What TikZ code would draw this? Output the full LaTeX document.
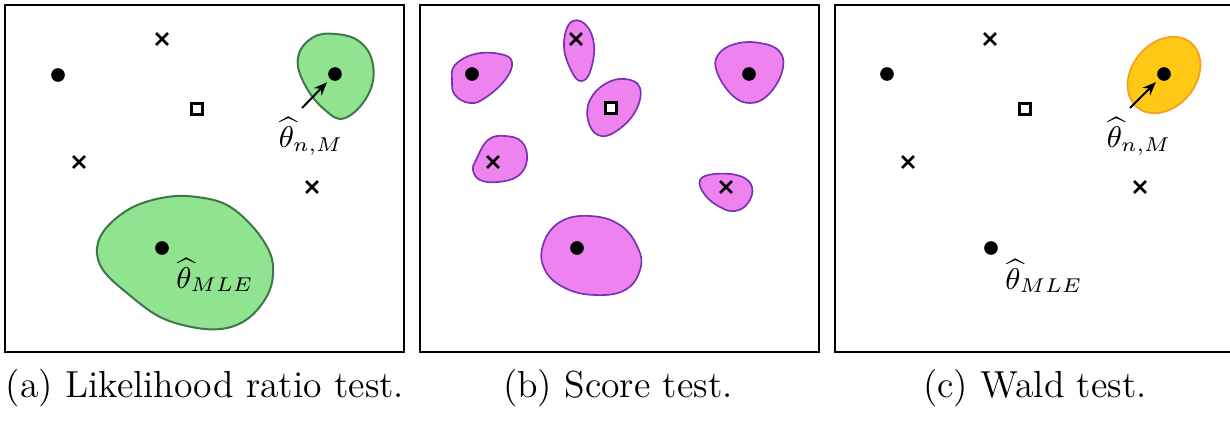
\documentclass[tikz,border=0pt]{standalone}
\usetikzlibrary{shapes.misc,arrows.meta}
\definecolor{gfill}{RGB}{144,228,144}
\definecolor{gline}{RGB}{60,120,75}
\definecolor{mfill}{RGB}{238,130,238}
\definecolor{mline}{RGB}{120,50,180}
\definecolor{ofill}{RGB}{255,200,20}
\definecolor{oline}{RGB}{240,160,30}
\begin{document}
\begin{tikzpicture}[x=0.3pt,y=-0.3pt,
  frame/.style={line width=0.7pt},
  dot/.style={circle,fill=black,inner sep=0pt,minimum size=4.1pt},
  xmark/.style={cross out,draw=black,line width=0.75pt,inner sep=0pt,minimum size=2.8pt},
  sqmark/.style={rectangle,draw=black,fill=white,line width=0.7pt,inner sep=0pt,minimum size=3.3pt},
  gblob/.style={fill=gfill,draw=gline,line width=0.6pt},
  mblob/.style={fill=mfill,draw=mline,line width=0.5pt},
  oblob/.style={fill=ofill,draw=oline,line width=0.5pt},
  arr/.style={-{Stealth[length=4pt,width=3.2pt]},line width=0.6pt,shorten >=1.2pt},
  lbl/.style={inner sep=0pt,font=\fontsize{9}{11}\selectfont},
  captext/.style={inner sep=0pt,font=\fontsize{11.3}{13}\selectfont}]
\useasboundingbox (0,0) rectangle (1230,422);
\clip (0,0) rectangle (1230,422);
\fill[white] (0,0) rectangle (1230,422);
% ---------------- panel (a)
\draw[frame] (5,5) rectangle (404,352);
\draw[gblob] plot[smooth cycle,tension=0.7] coordinates {(298,58) (312,38) (335,34) (360,42) (373,65) (368,95) (345,118) (325,110) (305,85)};
\draw[gblob] plot[smooth cycle,tension=0.6] coordinates {(97,248) (107,227) (133,207) (167,197) (197,197) (227,205) (253,227) (270,253) (273,275) (267,296) (250,317) (227,328) (197,328) (160,317) (127,293) (103,270)};
\node[xmark] (a1) at (162,39) {};
\node[dot] (a2) at (58,75) {};
\node[sqmark] (a3) at (197,109) {};
\node[xmark] (a4) at (79,162) {};
\node[xmark] (a5) at (312,187) {};
\node[dot] (aM) at (335,74) {};
\node[dot] (aE) at (162,248) {};
\node[lbl] (aLM) at (311,136) {$\widehat{\theta}_{n,M}$};
\node[lbl] (aLE) at (215,275) {$\widehat{\theta}_{MLE}$};
\coordinate (aS) at (302,108);
\draw[arr] (aS) -- (aM);
% ---------------- panel (b)
\draw[frame] (420,5) rectangle (819,352);
\draw[mblob] plot[smooth cycle,tension=0.7] coordinates {(570,23) (585,24) (594,45) (590,72) (581,81) (572,72) (564,47)};
\draw[mblob] plot[smooth cycle,tension=0.7] coordinates {(455,65) (475,54) (500,54) (512,62) (505,80) (485,98) (470,103) (455,95) (452,80)};
\draw[mblob] plot[smooth cycle,tension=0.7] coordinates {(590,100) (605,84) (625,79) (640,88) (635,112) (615,132) (598,135) (588,120)};
\draw[mblob] plot[smooth cycle,tension=0.7] coordinates {(718,55) (735,44) (760,43) (780,52) (782,72) (768,95) (750,103) (732,95) (717,72)};
\draw[mblob] plot[smooth cycle,tension=0.7] coordinates {(476,160) (488,140) (505,136) (522,142) (527,160) (518,176) (498,182) (480,180) (473,170)};
\draw[mblob] plot[smooth cycle,tension=0.7] coordinates {(700,180) (715,174) (740,176) (752,187) (748,203) (735,211) (720,207) (705,195)};
\draw[mblob] plot[smooth cycle,tension=0.7] coordinates {(543,245) (560,222) (590,216) (620,225) (638,248) (640,270) (625,290) (595,295) (565,288) (545,270)};
\node[xmark] (b1) at (576,39) {};
\node[dot] (b2) at (472,74) {};
\node[sqmark] (b3) at (611,108) {};
\node[xmark] (b4) at (493,162) {};
\node[xmark] (b5) at (726,187) {};
\node[dot] (bM) at (749,74) {};
\node[dot] (bE) at (577,248) {};
% ---------------- panel (c)
\draw[frame] (835,5) rectangle (1234,352);
\draw[oblob,rotate around={50:(1164,75)}] (1164,75) ellipse [x radius=42,y radius=32];
\node[xmark] (c1) at (990,39) {};
\node[dot] (c2) at (887,74) {};
\node[sqmark] (c3) at (1025,109) {};
\node[xmark] (c4) at (908,162) {};
\node[xmark] (c5) at (1140,187) {};
\node[dot] (cM) at (1164,74) {};
\node[dot] (cE) at (991,248) {};
\node[lbl] (cLM) at (1139,136) {$\widehat{\theta}_{n,M}$};
\node[lbl] (cLE) at (1044,276) {$\widehat{\theta}_{MLE}$};
\coordinate (cS) at (1130,108);
\draw[arr] (cS) -- (cM);
% ---------------- captions
\node[captext] (capa) at (205,388) {(a) Likelihood ratio test.};
\node[captext] (capb) at (618,388) {(b) Score test.};
\node[captext] (capc) at (1035,388) {(c) Wald test.};
\end{tikzpicture}
\end{document}
